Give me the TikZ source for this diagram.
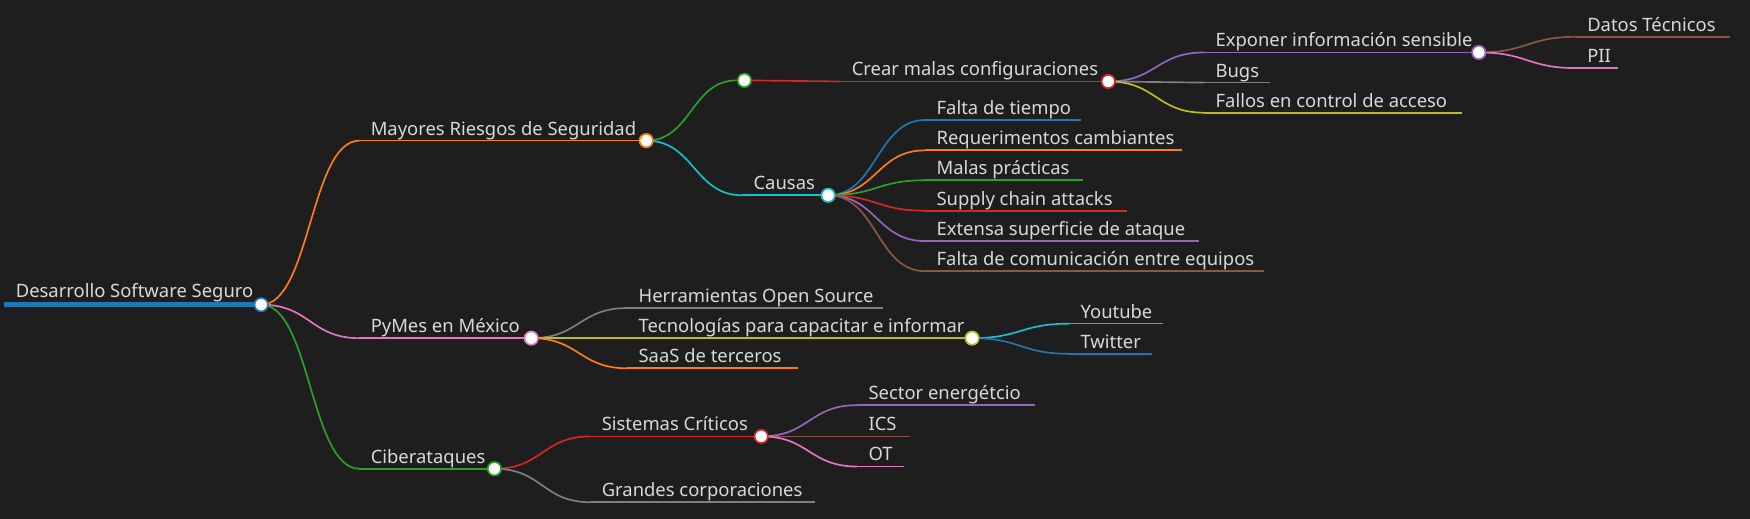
\documentclass[tikz,border=0pt]{standalone}
\usepackage{fontspec}
\setmainfont{Noto Sans}
\usetikzlibrary{calc}
\definecolor{bg}{HTML}{1E1E1E}
\definecolor{txt}{HTML}{D8D8D8}
\definecolor{cblue}{HTML}{1F77B4}
\definecolor{corange}{HTML}{FF7F0E}
\definecolor{cgreen}{HTML}{2CA02C}
\definecolor{cred}{HTML}{D62728}
\definecolor{cpurple}{HTML}{9467BD}
\definecolor{cbrown}{HTML}{8C564B}
\definecolor{cpink}{HTML}{E377C2}
\definecolor{cgrey}{HTML}{7F7F7F}
\definecolor{colive}{HTML}{BCBD22}
\definecolor{ccyan}{HTML}{17BECF}
\newcommand\mmtopic[6]{%
  \coordinate (#1-s) at (#3,#5);
  \coordinate (#1-e) at (#4,#5);
  \draw[branch,#2] (#1-s) -- (#1-e);
  \node[lbl] (#1-t) at ($(#1-s)+(10,-5)$) {#6};
}
\newcommand\mmlink[3]{%
  \path (#1) -- (#2) coordinate[pos=0.5] (tmpmid);
  \draw[branch,#3] (#1) .. controls (tmpmid |- #1) and (tmpmid |- #2) .. (#2);
}
\newcommand\mmdot[2]{\node[dot,draw=#2] (#1-c) at (#1-e) {};}
\begin{document}
\begin{tikzpicture}[x=1pt,y=-1pt,
  branch/.style={line width=1.5pt},
  dot/.style={circle,fill=white,line width=1.5pt,minimum size=12pt,inner sep=0pt},
  lbl/.style={anchor=base west,inner sep=0pt,text=txt,font=\fontsize{16.5}{19}\selectfont}]
\fill[bg] (0,0) rectangle (1568,465);
\useasboundingbox (0,0) rectangle (1568,465);
% root
\coordinate (root-s) at (4,273);
\coordinate (root-e) at (234,273);
\draw[cblue,line width=4.5pt] (root-s) -- (root-e);
\node[lbl] (root-t) at (14,267) {Desarrollo Software Seguro};
% level 1
\mmtopic{may}{corange}{322}{579}{126}{Mayores Riesgos de Seguridad}
\mmtopic{pym}{cpink}{322}{476}{303}{PyMes en México}
\mmtopic{cib}{cgreen}{322}{443}{420}{Ciberataques}
\mmlink{root-e}{may-s}{corange}
\mmlink{root-e}{pym-s}{cpink}
\mmlink{root-e}{cib-s}{cgreen}
% Mayores children
\coordinate (anon-s) at (660,72);
\coordinate (anon-e) at (667,72);
\draw[branch,cgreen] (anon-s) -- (anon-e);
\mmlink{may-e}{anon-s}{cgreen}
\mmtopic{cau}{ccyan}{665}{742}{175}{Causas}
\mmlink{may-e}{cau-s}{ccyan}
\mmtopic{cre}{cred}{753}{993}{73}{Crear malas configuraciones}
\mmlink{anon-e}{cre-s}{cred}
\mmtopic{exp}{cpurple}{1079}{1325}{47}{Exponer información sensible}
\mmtopic{bug}{cgrey}{1079}{1138}{74}{Bugs}
\mmtopic{fal}{colive}{1079}{1310}{101}{Fallos en control de acceso}
\mmlink{cre-e}{exp-s}{cpurple}
\mmlink{cre-e}{bug-s}{cgrey}
\mmlink{cre-e}{fal-s}{colive}
\mmtopic{dat}{cbrown}{1412}{1550}{33}{Datos Técnicos}
\mmtopic{pii}{cpink}{1412}{1450}{61}{PII}
\mmlink{exp-e}{dat-s}{cbrown}
\mmlink{exp-e}{pii-s}{cpink}
% Causas children
\mmtopic{c1}{cblue}{829}{969}{107.5}{Falta de tiempo}
\mmtopic{c2}{corange}{829}{1059}{134.7}{Requerimentos cambiantes}
\mmtopic{c3}{cgreen}{829}{970}{161.5}{Malas prácticas}
\mmtopic{c4}{cred}{829}{1009.5}{188.8}{Supply chain attacks}
\mmtopic{c5}{cpurple}{829}{1074}{216}{Extensa superficie de ataque}
\mmtopic{c6}{cbrown}{829}{1132.5}{243}{Falta de comunicación entre equipos}
\mmlink{cau-e}{c1-s}{cblue}
\mmlink{cau-e}{c2-s}{corange}
\mmlink{cau-e}{c3-s}{cgreen}
\mmlink{cau-e}{c4-s}{cred}
\mmlink{cau-e}{c5-s}{cpurple}
\mmlink{cau-e}{c6-s}{cbrown}
% PyMes children
\mmtopic{her}{cgrey}{562}{791}{276}{Herramientas Open Source}
\mmtopic{tec}{colive}{562}{871}{303}{Tecnologías para capacitar e informar}
\mmtopic{saa}{corange}{562}{715}{330}{SaaS de terceros}
\mmlink{pym-e}{her-s}{cgrey}
\mmlink{pym-e}{tec-s}{colive}
\mmlink{pym-e}{saa-s}{corange}
\mmtopic{you}{ccyan}{958}{1042}{290}{Youtube}
\mmtopic{twi}{cblue}{958}{1032}{317}{Twitter}
\mmlink{tec-e}{you-s}{ccyan}
\mmlink{tec-e}{twi-s}{cblue}
% Ciberataques children
\mmtopic{sis}{cred}{529}{682}{391}{Sistemas Críticos}
\mmtopic{gra}{cgrey}{529}{730}{450}{Grandes corporaciones}
\mmlink{cib-e}{sis-s}{cred}
\mmlink{cib-e}{gra-s}{cgrey}
\mmtopic{sec}{cpurple}{768}{927}{363}{Sector energétcio}
\mmtopic{ics}{cbrown}{768}{815}{391}{ICS}
\mmtopic{ot}{cpink}{768}{810}{418}{OT}
\mmlink{sis-e}{sec-s}{cpurple}
\mmlink{sis-e}{ics-s}{cbrown}
\mmlink{sis-e}{ot-s}{cpink}
% dots
\node[dot,draw=cblue] (root-c) at (root-e) {};
\mmdot{may}{corange}
\mmdot{pym}{cpink}
\mmdot{cib}{cgreen}
\mmdot{anon}{cgreen}
\mmdot{cau}{ccyan}
\mmdot{cre}{cred}
\mmdot{exp}{cpurple}
\mmdot{tec}{colive}
\mmdot{sis}{cred}
\end{tikzpicture}
\end{document}
